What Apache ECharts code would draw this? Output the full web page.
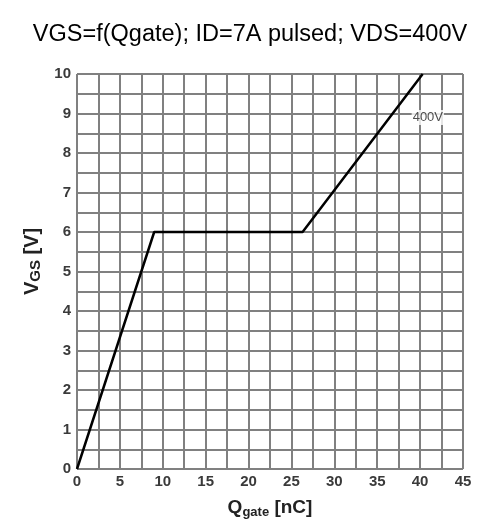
<!DOCTYPE html>
<html><head><meta charset="utf-8">
<script src="https://cdn.jsdelivr.net/npm/echarts@6/dist/echarts.min.js"></script>
<style>html,body{margin:0;padding:0;background:#fff}#c{width:500px;height:526px}</style>
</head><body><div id="c"></div>
<script>
var qgate = [0, 9.0, 26.3, 40.3];
var vgs = [0, 6, 6, 10];
var curveLabel = '400V';
var labelPos = [40.9, 8.9];
var titleText = 'VGS=f(Qgate); ID=7A pulsed; VDS=400V';

var chart = echarts.init(document.getElementById('c'));
var pts = qgate.map(function(q, i){ return [q, vgs[i]]; });
chart.setOption({
  animation: false,
  title: { text: titleText, left: 'center', top: 18,
    textStyle: { fontFamily: 'Liberation Sans', fontWeight: 'normal', fontSize: 23.5, color: '#000' } },
  grid: { left: 77, right: 37, top: 74, bottom: 57 },
  xAxis: {
    type: 'value', min: 0, max: 45, interval: 2.5,
    name: '{b|Q}{s|gate}{b| [nC]}', nameLocation: 'middle', nameGap: 29,
    nameTextStyle: { rich: {
      b: { fontFamily: 'Liberation Sans', fontWeight: 'bold', fontSize: 19, color: '#222', verticalAlign: 'bottom' },
      s: { fontFamily: 'Liberation Sans', fontWeight: 'bold', fontSize: 13, color: '#222', verticalAlign: 'bottom', padding: [0,0,-2,0] } } },
    axisLine: { show: false }, axisTick: { show: false },
    axisLabel: { margin: 5, fontFamily: 'Liberation Sans', fontWeight: 'bold', fontSize: 15, color: '#3a3a3a',
      formatter: function(v){ return (v % 5 === 0) ? String(v) : ''; } },
    splitLine: { lineStyle: { color: '#808080', width: 2 } }
  },
  yAxis: {
    type: 'value', min: 0, max: 10, interval: 0.5,
    name: '{b|V}{s|GS}{b| [V]}', nameLocation: 'middle', nameGap: 26,
    nameTextStyle: { padding: [0, 0, 0, 20], rich: {
      b: { fontFamily: 'Liberation Sans', fontWeight: 'bold', fontSize: 20, color: '#222', verticalAlign: 'bottom' },
      s: { fontFamily: 'Liberation Sans', fontWeight: 'bold', fontSize: 15, color: '#222', verticalAlign: 'bottom', padding: [0,0,-1,0] } } },
    axisLine: { show: false }, axisTick: { show: false },
    axisLabel: { margin: 6, fontFamily: 'Liberation Sans', fontWeight: 'bold', fontSize: 15, color: '#3a3a3a',
      formatter: function(v){ return (v % 1 === 0) ? String(v) : ''; } },
    splitLine: { lineStyle: { color: '#808080', width: 2 } }
  },
  series: [{
    type: 'line', data: pts, symbol: 'none',
    lineStyle: { color: '#000', width: 2.5 },
    z: 3
  }, {
    type: 'scatter', data: [labelPos], symbolSize: 0,
    label: { show: true, position: 'inside', formatter: curveLabel,
      fontFamily: 'Liberation Sans', fontSize: 13, color: '#222', backgroundColor: '#fff', padding: [1, 1] },
    z: 4
  }]
});
</script></body></html>
